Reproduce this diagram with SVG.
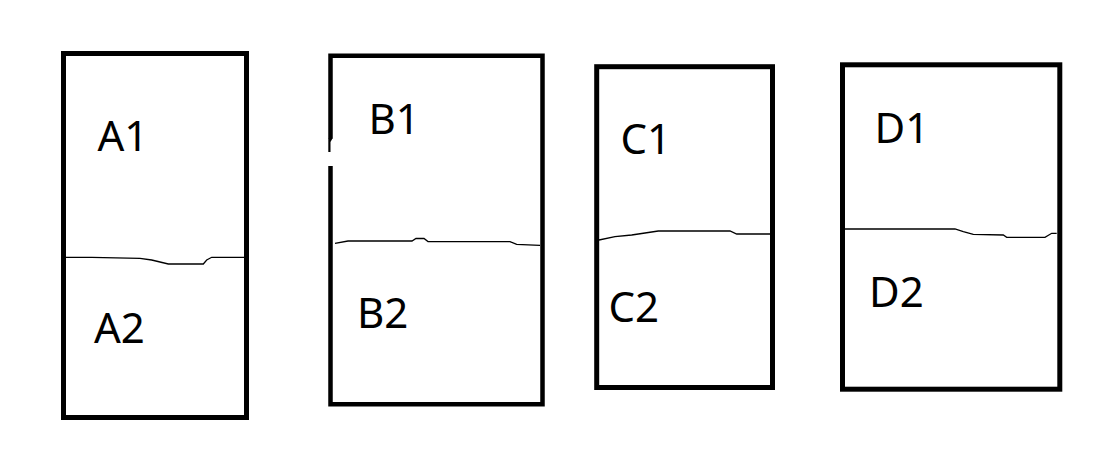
<svg xmlns="http://www.w3.org/2000/svg" width="1119" height="463" viewBox="0 0 1119 463">
<style>
.box{fill:none;stroke:#000;stroke-width:5}
.edge{stroke:#000;stroke-width:4.5;fill:none;stroke-linejoin:miter}
.div{fill:none;stroke:#000;stroke-width:1.3}
.lbl{font-family:"Noto Sans","Liberation Sans",sans-serif;font-size:42px;fill:#000}
</style>
<rect width="1119" height="463" fill="#fff"/>
<g id="nodeA">
<rect class="box" x="63.5" y="53.5" width="183" height="364"/>
<path class="div" d="M66,257.3 L91.7,257.3 L140,258.3 L151.7,260 L168.3,264 L203.3,264 L206.7,260 L211.7,257.3 L244,257.3"/>
<text class="lbl" x="97.5" y="151">A1</text>
<text class="lbl" x="94" y="342.7">A2</text>
</g>
<g id="nodeB">
<path class="edge" d="M330.5,138.5 L330.5,55.8 L542.5,55.8 L542.5,404.2 L330.5,404.2 L330.5,166"/>
<path d="M328.3,138 L332.7,138 L330.5,142 L330.5,152 L328.3,152 Z" fill="#000"/>
<path class="div" d="M335,243.3 L348,241 L412,241 L416,238.5 L424,238.5 L428,241.5 L510,241.7 L516.7,244.3 L540,245.3"/>
<text class="lbl" x="368.5" y="134.3">B1</text>
<text class="lbl" x="357" y="328.3">B2</text>
</g>
<g id="nodeC">
<rect class="box" x="596.7" y="66.7" width="175.8" height="320.8"/>
<path class="div" d="M599,240 L615,236.7 L631.7,235 L658.3,231 L730,231 L736.7,234 L770,234"/>
<text class="lbl" x="620.5" y="154">C1</text>
<text class="lbl" x="608.5" y="321.7">C2</text>
</g>
<g id="nodeD">
<rect class="box" x="842.5" y="64.8" width="217.3" height="324.4"/>
<path class="div" d="M845,229 L955,229 L963.3,231.7 L973.3,234.3 L1003.3,235 L1006.7,237.3 L1045,237.3 L1051.7,233.3 L1056.7,233.3"/>
<text class="lbl" x="874.5" y="143.3">D1</text>
<text class="lbl" x="869" y="306.7">D2</text>
</g>
<g id="connectors"></g>
</svg>
